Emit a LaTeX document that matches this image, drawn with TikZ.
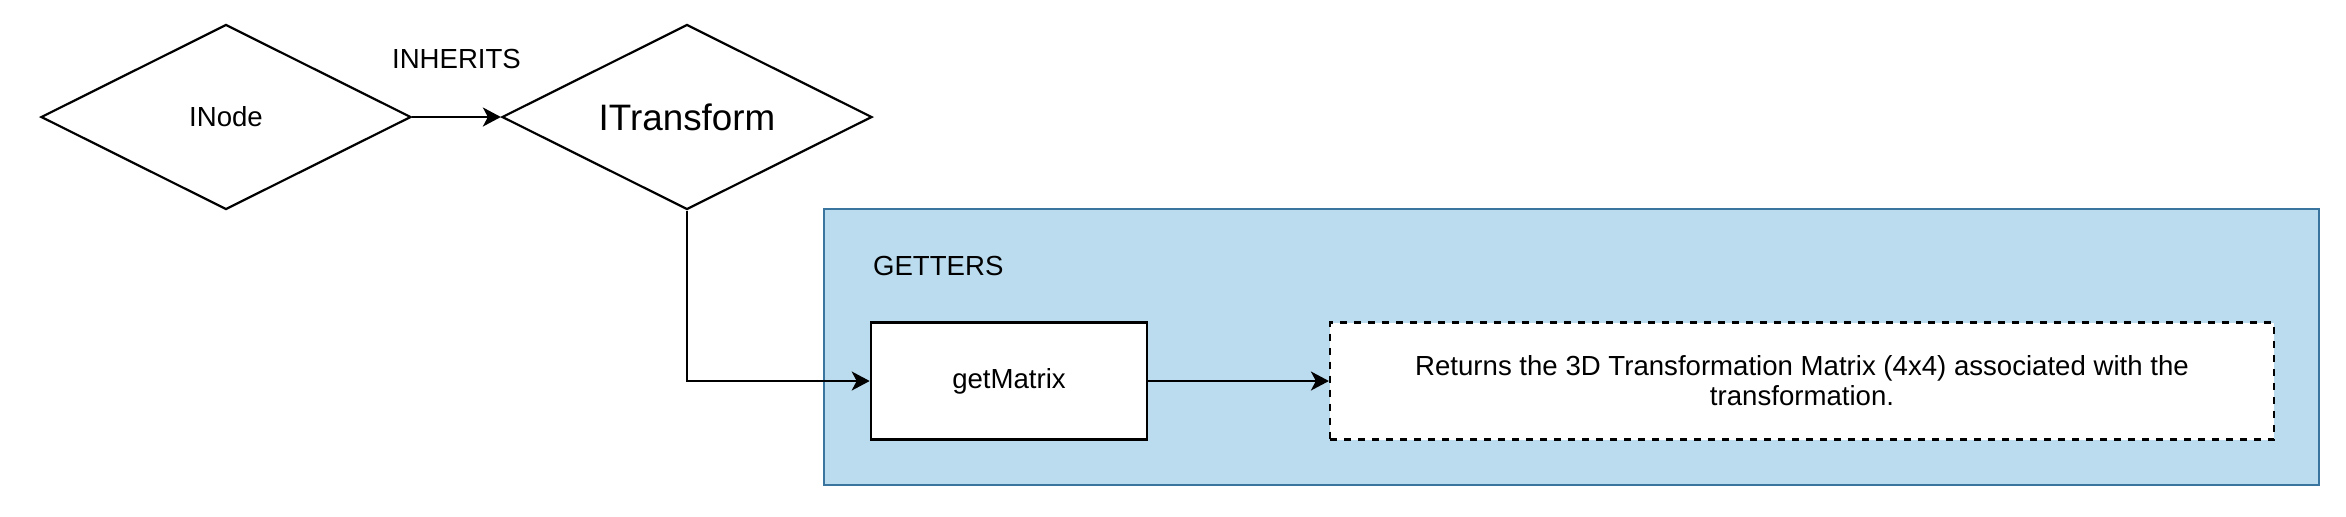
\documentclass[tikz,border=0pt]{standalone}
\usepackage{fontspec}
\setmainfont{Liberation Sans}
\usetikzlibrary{arrows.meta}
\usetikzlibrary{shapes.geometric}

\definecolor{groupfill}{HTML}{BBDCEE}
\definecolor{groupline}{HTML}{3A75A0}

\tikzset{
    txt/.style={font=\fontsize{13.8}{15}\selectfont},
    dia/.style={diamond, draw, line width=1.1pt, aspect=2, inner sep=0pt,
        minimum width=185pt, minimum height=92.5pt, txt},
    box/.style={rectangle, draw, line width=1.3pt, fill=white,
        minimum width=138pt, minimum height=58.5pt, txt},
    descbox/.style={rectangle, draw, line width=1.1pt, fill=white,
        dash pattern=on 3.5pt off 3.5pt, align=center,
        minimum width=472pt, minimum height=58.5pt, txt},
    link/.style={line width=1.1pt, -{Stealth[length=9pt, width=9.5pt, inset=2.5pt]}}
}

\begin{document}
\begin{tikzpicture}[x=0.5pt, y=-0.5pt]
            \useasboundingbox (0,0) rectangle (2346,516);
            \node[rectangle, draw=groupline, line width=1.1pt, fill=groupfill,
                minimum width=747.5pt, minimum height=138pt] (grp) at (1571.5,347) {};
            \node[txt, anchor=west] (grplbl) at (866,266) {GETTERS};
            \node[dia] (inode) at (226,117) {INode};
            \node[dia, font=\fontsize{18.4}{22}\selectfont] (itrans) at (687,117) {ITransform};
            \node[box] (getm) at (1009,381) {getMatrix};
            \node[descbox] (desc) at (1802,381) {Returns the 3D Transformation Matrix (4x4) associated with the\\transformation.};
            \draw[link] (inode) to node[above=20pt, txt] (inh) {INHERITS} (itrans);
            \draw[link] (itrans.south) |- (getm.west);
            \draw[link] (getm) to (desc);
        \end{tikzpicture}
\end{document}
